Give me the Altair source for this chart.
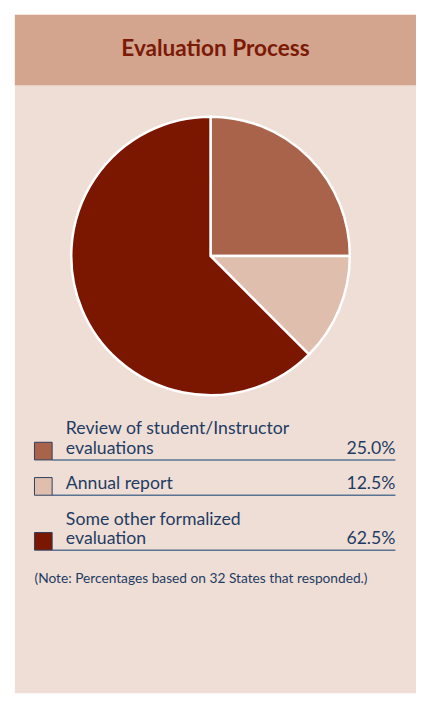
import altair as alt
import pandas as pd

# ---- data ----
title_text = "Evaluation Process"
categories = ["Review of student/Instructor\nevaluations", "Annual report", "Some other formalized\nevaluation"]
keys = ["review", "annual", "other"]
values = [25.0, 12.5, 62.5]
colors = ["#A8634A", "#E0BEAE", "#7B1700"]
note_text = "(Note: Percentages based on 32 States that responded.)"

FONT = "Lato"
TEXT_COLOR = "#1E3C63"
LINE_COLOR = "#5A7392"

W, H = 416, 692
PANEL_X0 = 7
HEADER_H = 72
CX, CY, R = 206.5, 246, 142

# ---- layout tables built from the data ----
pie_df = pd.DataFrame({"key": keys, "value": values, "idx": list(range(len(keys)))})

row_lines = [c.split("\n") for c in categories]
first_bottom = 454
gap = 36
line_h = 20
bottoms = []
b = first_bottom
for i, ls in enumerate(row_lines):
    if i > 0:
        b += gap + line_h * (len(ls) - 1)
    bottoms.append(b)

sq_df = pd.DataFrame({
    "key": keys,
    "x": [27] * 3, "x2": [45] * 3,
    "y": [bb - 18 for bb in bottoms], "y2": bottoms,
})
rule_df = pd.DataFrame({"x": [45] * 3, "x2": [395] * 3, "y": bottoms})
lab_rows = []
for ls, bb in zip(row_lines, bottoms):
    n = len(ls)
    for j, t in enumerate(ls):
        lab_rows.append({"t": t, "x": 59, "y": bb - 6 - line_h * (n - 1 - j)})
lab_df = pd.DataFrame(lab_rows)
pct_df = pd.DataFrame({"t": [f"{v:.1f}%" for v in values], "x": [395] * 3,
                       "y": [bb - 6 for bb in bottoms]})
one = pd.DataFrame({"a": [0]})

panel = alt.Chart(one).mark_rect(color="#EFDED5").encode(
    x=alt.value(PANEL_X0), x2=alt.value(W), y=alt.value(0), y2=alt.value(H))
header = alt.Chart(one).mark_rect(color="#D3A48E").encode(
    x=alt.value(PANEL_X0), x2=alt.value(W), y=alt.value(0), y2=alt.value(HEADER_H))
title = alt.Chart(pd.DataFrame({"t": [title_text]})).mark_text(
    font=FONT, fontSize=23, fontWeight="bold", color="#7B1A06", align="center",
    baseline="alphabetic").encode(text="t:N", x=alt.value((PANEL_X0 + W) / 2), y=alt.value(42))

color_scale = alt.Scale(domain=keys, range=colors)
pie = alt.Chart(pie_df).mark_arc(outerRadius=R, stroke="white", strokeWidth=2.5).encode(
    theta=alt.Theta("value:Q", stack=True),
    color=alt.Color("key:N", scale=color_scale, legend=None),
    order=alt.Order("idx:Q"),
    x=alt.value(CX), y=alt.value(CY),
)
rules = alt.Chart(rule_df).mark_rule(color=LINE_COLOR, strokeWidth=1.5).encode(
    x=alt.X("x:Q", scale=None), x2="x2:Q", y=alt.Y("y:Q", scale=None))
squares = alt.Chart(sq_df).mark_rect(stroke="#2B3F5E", strokeWidth=1).encode(
    x=alt.X("x:Q", scale=None), x2="x2:Q", y=alt.Y("y:Q", scale=None), y2="y2:Q",
    color=alt.Color("key:N", scale=color_scale, legend=None))
labels = alt.Chart(lab_df).mark_text(font=FONT, fontSize=18, color=TEXT_COLOR, align="left",
                                     baseline="alphabetic").encode(
    text="t:N", x=alt.X("x:Q", scale=None), y=alt.Y("y:Q", scale=None))
pcts = alt.Chart(pct_df).mark_text(font=FONT, fontSize=18, color=TEXT_COLOR, align="right",
                                   baseline="alphabetic").encode(
    text="t:N", x=alt.X("x:Q", scale=None), y=alt.Y("y:Q", scale=None))
note = alt.Chart(pd.DataFrame({"t": [note_text]})).mark_text(
    font=FONT, fontSize=14, color=TEXT_COLOR, align="left", baseline="alphabetic").encode(
    text="t:N", x=alt.value(27), y=alt.value(579))

chart = alt.layer(panel, header, title, pie, rules, squares, labels, pcts, note).properties(
    width=W, height=H, padding=0, background="white",
    autosize=alt.AutoSizeParams(type="none"),
).configure_view(stroke=None)

chart.save("out.html", embed_options={"renderer": "svg", "actions": False})
